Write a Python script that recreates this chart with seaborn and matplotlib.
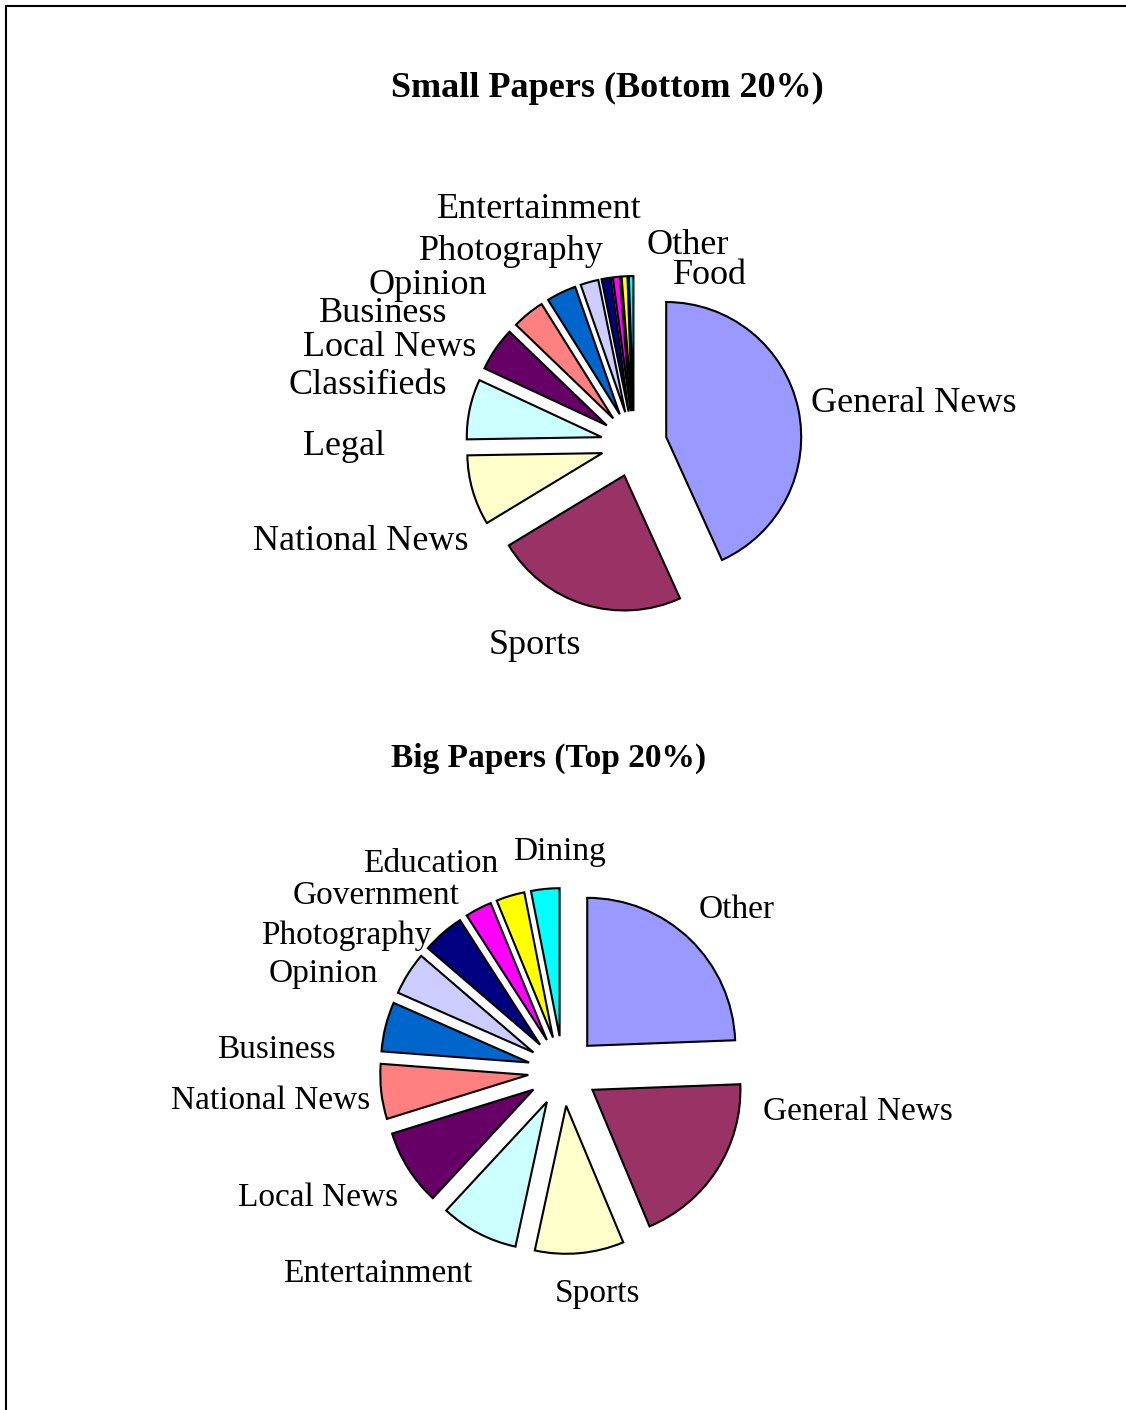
import matplotlib
matplotlib.use("Agg")
import matplotlib.pyplot as plt
import seaborn as sns
from matplotlib.patches import Rectangle

sns.set_theme(style="white")
plt.rcParams['font.family'] = ['Liberation Serif', 'DejaVu Serif']

colors = ["#9999FF", "#993366", "#FFFFCC", "#CCFFFF", "#660066", "#FF8080",
          "#0066CC", "#CCCCFF", "#000080", "#FF00FF", "#FFFF00", "#00FFFF"]

small_labels = ["General News", "Sports", "National News", "Legal", "Classifieds",
                "Local News", "Business", "Opinion", "Photography", "Entertainment",
                "Other", "Food"]
small_values = [43.2, 23.1, 8.4, 7.2, 5.25, 3.9, 3.55, 2.15, 1.1, 0.85, 0.7, 0.55]

big_labels = ["Other", "General News", "Sports", "Entertainment", "Local News",
              "National News", "Business", "Opinion", "Photography", "Government",
              "Education", "Dining"]
big_values = [24.4, 19.3, 9.7, 8.5, 8.3, 6.0, 5.4, 4.7, 4.6, 2.9, 3.1, 3.1]

W, H = 1126, 1410
fig = plt.figure(figsize=(W / 100, H / 100), dpi=100)
fig.patch.set_facecolor("white")

# outer frame (extends beyond right/bottom edge)
fig.patches.append(Rectangle((6 / W, -0.1), 1.2, (H - 6) / H + 0.1,
                             transform=fig.transFigure, fill=False,
                             edgecolor="black", linewidth=1.5))


def make_pie(cx, cy, r, values, explode_frac, lim=1.6):
    size = 2 * lim * r
    ax = fig.add_axes([(cx - size / 2) / W, (H - cy - size / 2) / H, size / W, size / H])
    ax.pie(values, colors=colors, startangle=90, counterclock=False,
           explode=[explode_frac] * len(values),
           wedgeprops=dict(edgecolor="black", linewidth=1.5))
    ax.set_xlim(-lim, lim)
    ax.set_ylim(-lim, lim)
    ax.set_aspect("equal")
    ax.axis("off")
    return ax


make_pie(634, 444, 135, small_values, 0.244)
make_pie(563, 1071, 148, big_values, 0.236)


def ftext(x, y, s, size, ha="left", weight="normal"):
    fig.text(x / W, (H - y) / H, s, fontsize=size, ha=ha, va="center_baseline",
             fontweight=weight, color="black")


ftext(607, 84, "Small Papers (Bottom 20%)", 26, ha="center", weight="bold")
ftext(549, 755, "Big Papers (Top 20%)", 24, ha="center", weight="bold")

small_pos = {
    "General News": (811, 399),
    "Sports": (489, 641),
    "National News": (253, 537),
    "Legal": (303, 443),
    "Classifieds": (289, 381),
    "Local News": (303, 343),
    "Business": (319, 309),
    "Opinion": (369, 281),
    "Photography": (419, 247),
    "Entertainment": (437, 205),
    "Other": (647, 241),
    "Food": (673, 272),
}
for lab in small_labels:
    x, y = small_pos[lab]
    ftext(x, y, lab, 26)

big_pos = {
    "Other": (699, 906),
    "General News": (763, 1108),
    "Sports": (555, 1290),
    "Entertainment": (283, 1270),
    "Local News": (238, 1194),
    "National News": (171, 1097),
    "Business": (217, 1046),
    "Opinion": (269, 970),
    "Photography": (261, 932),
    "Government": (293, 892),
    "Education": (363, 860),
    "Dining": (513, 848),
}
for lab in big_labels:
    x, y = big_pos[lab]
    ftext(x, y, lab, 24)

fig.savefig("out.png", dpi=100, facecolor="white")
